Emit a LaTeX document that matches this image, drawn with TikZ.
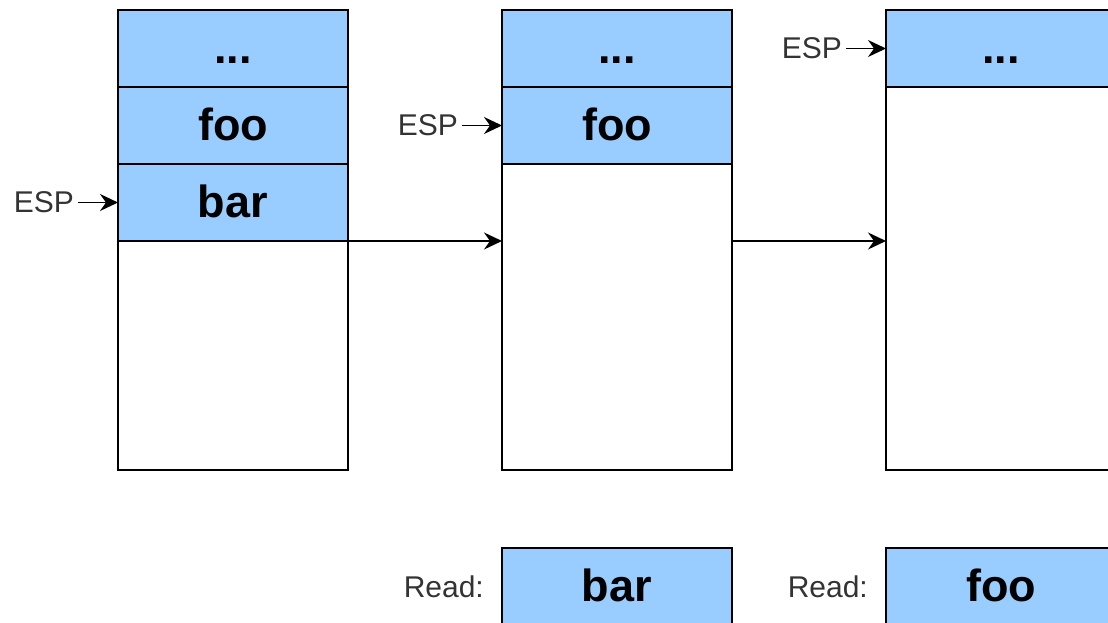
\documentclass[tikz,border=0pt]{standalone}
\usepackage{fontspec}
\setmainfont{Liberation Sans}
\usetikzlibrary{arrows.meta}
\definecolor{cellblue}{HTML}{99CCFF}
\definecolor{labelgray}{HTML}{333333}
\begin{document}
\begin{tikzpicture}[x=1pt,y=-1pt,
  box/.style={draw=black, line width=1.5pt, inner sep=0pt, outer sep=0pt,
              minimum width=230pt, anchor=north west},
  cell/.style={box, fill=cellblue, minimum height=77pt,
               text height=42pt, text depth=12pt,
               font=\fontsize{45}{45}\selectfont\bfseries},
  free/.style={box, fill=white},
  tag/.style={anchor=east, inner sep=4pt, text=labelgray,
              font=\fontsize{30}{30}\selectfont},
  arr/.style={-{Stealth[length=18pt,width=17pt,inset=6pt]}, line width=1.5pt}]
\useasboundingbox (0,0) rectangle (1108,623);
\clip (0,0) rectangle (1108,623);

% first stack: ..., foo, bar
\node[cell] (a1) at (118,10) {...};
\node[cell] (a2) at (118,87) {foo};
\node[cell] (a3) at (118,164) {bar};
\node[free, minimum height=229pt] (aw) at (118,241) {};

% second stack: ..., foo
\node[cell] (b1) at (502,10) {...};
\node[cell] (b2) at (502,87) {foo};
\node[free, minimum height=306pt] (bw) at (502,164) {};

% third stack: ...
\node[cell] (c1) at (886,10) {...};
\node[free, minimum height=383pt] (cw) at (886,87) {};

% stack pointer markers
\node[tag] (espa) at (78,202.5) {ESP};
\node[tag] (espb) at (462,125.5) {ESP};
\node[tag] (espc) at (846,48.5) {ESP};
\draw[arr] (espa.east) -- (a3.west);
\draw[arr] (espb.east) -- (b2.west);
\draw[arr] (espc.east) -- (c1.west);

% transitions between stack states
\draw[arr] (aw.north east) -- (bw.west |- aw.north east);
\draw[arr] (bw.east |- aw.north east) -- (cw.west |- aw.north east);

% values read from the stack
\node[cell] (ra) at (502,548) {bar};
\node[cell] (rb) at (886,548) {foo};
\node[tag] (la) at (488,586.5) {Read:};
\node[tag] (lb) at (872,586.5) {Read:};
\end{tikzpicture}
\end{document}
